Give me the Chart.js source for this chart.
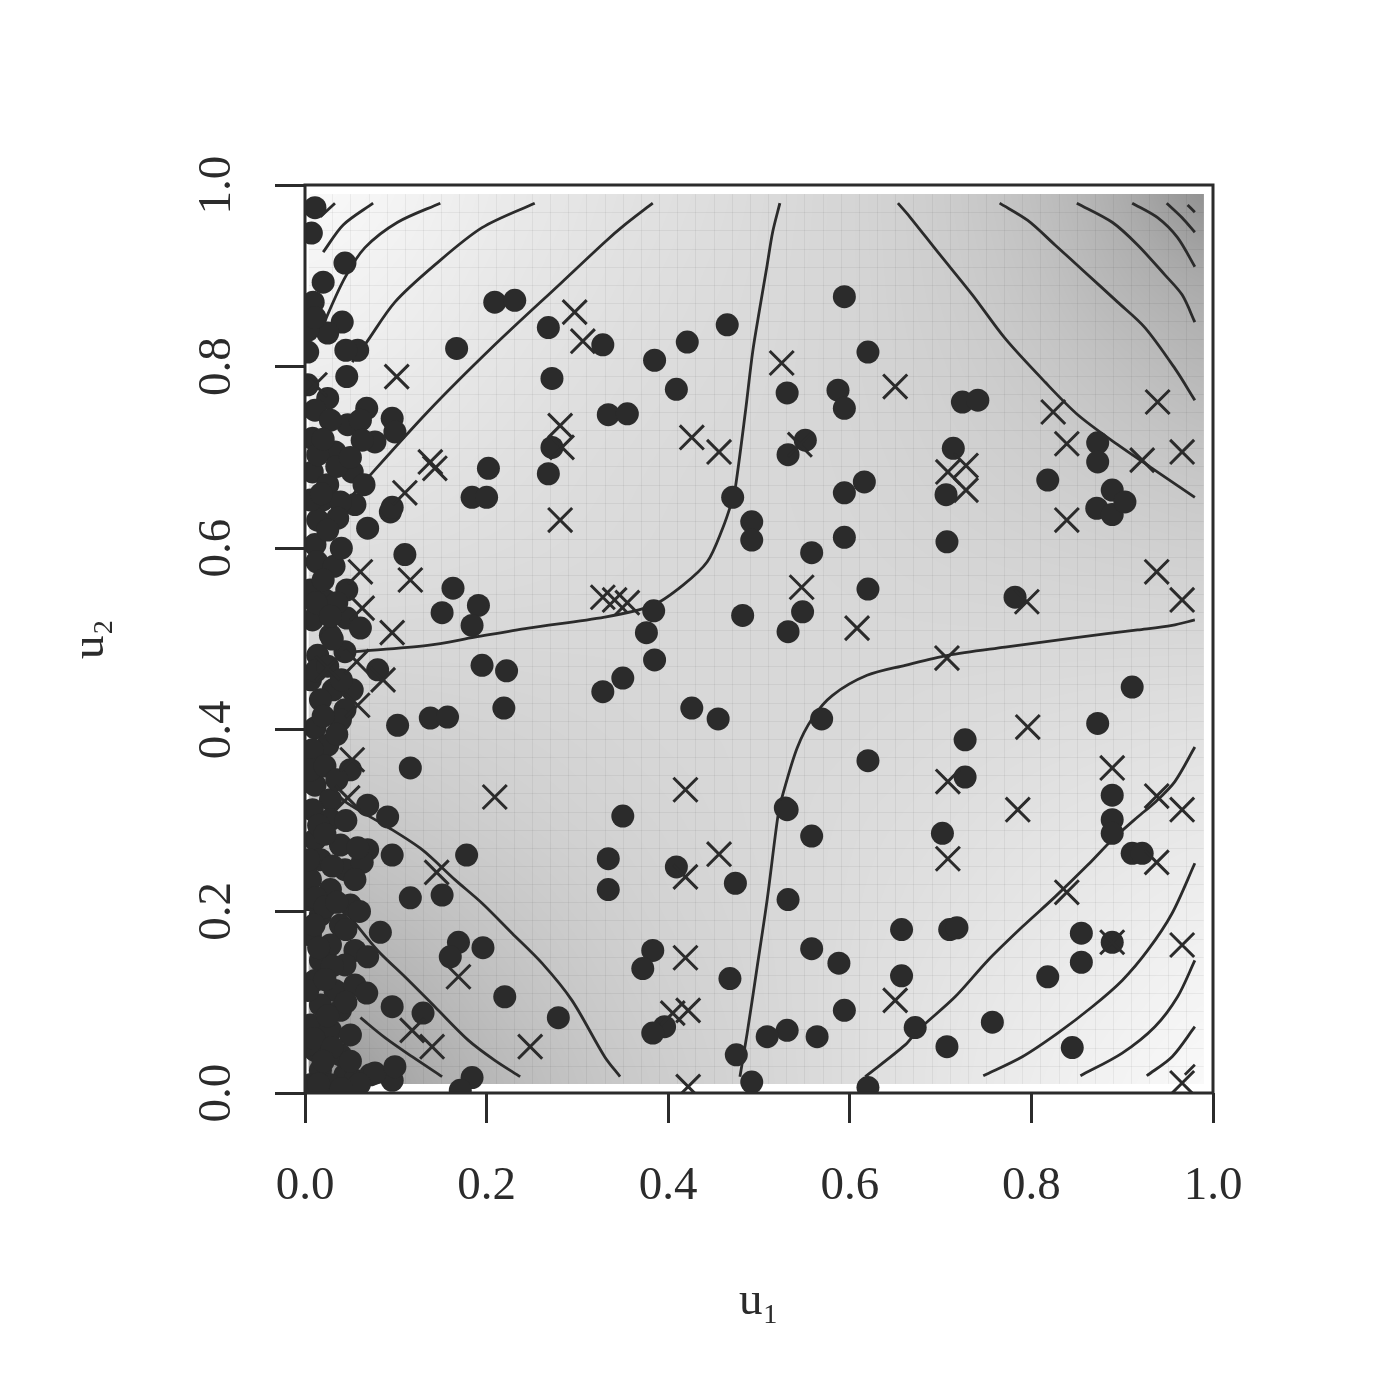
<!DOCTYPE html>
<html lang="en">
<head>
    <meta charset="UTF-8">
    <title>copula density</title>
    <script src="https://cdn.jsdelivr.net/npm/chart.js"></script>
    <style>
        body { margin: 0; background: #ffffff; }
    </style>
</head>
<body>
    <canvas id="copulaChart" width="1400" height="1400"></canvas>
    <script>
        // axis ticks
        const tickValues = [0, 0.2, 0.4, 0.6, 0.8, 1.0];
        const tickLabels = ['0.0', '0.2', '0.4', '0.6', '0.8', '1.0'];

        // background shade (grey level 0-255), rows from u2 = 1.0 down to 0.0
        const shadeU = [0, 0.1, 0.2, 0.3, 0.4, 0.5, 0.6, 0.7, 0.8, 0.9, 1.0];
        const shadeRows = [
            [250, 244, 236, 229, 224, 219, 213, 205, 192, 172, 140],
            [244, 240, 233, 227, 222, 218, 213, 206, 196, 180, 168],
            [238, 235, 229, 224, 220, 217, 213, 208, 201, 192, 182],
            [231, 229, 225, 221, 218, 216, 214, 210, 206, 201, 196],
            [224, 223, 221, 219, 217, 216, 215, 213, 211, 209, 207],
            [216, 216, 216, 216, 216, 216, 216, 216, 216, 216, 216],
            [207, 209, 211, 213, 215, 216, 217, 219, 221, 223, 225],
            [196, 201, 206, 210, 213, 216, 219, 222, 226, 229, 232],
            [182, 190, 198, 205, 211, 215, 220, 225, 230, 235, 239],
            [168, 177, 190, 200, 208, 214, 221, 228, 234, 240, 245],
            [140, 165, 182, 195, 205, 213, 221, 229, 237, 244, 250]
        ];
        const shadeLeft = 0.004, shadeMin = 0.01, shadeMax = 0.99, shadeCells = 49;

        // contour lines (u1 values, u2 values)
        const contourU = [
            [0.017, 0.033],
            [0.020, 0.042, 0.075],
            [0.019, 0.024, 0.044, 0.066, 0.102, 0.149],
            [0.052, 0.068, 0.099, 0.143, 0.195, 0.253],
            [0.033, 0.057, 0.135, 0.209, 0.283, 0.330, 0.352, 0.383],
            [0.523, 0.515, 0.509, 0.501, 0.493, 0.485, 0.474, 0.470, 0.460, 0.443, 0.416, 0.383, 0.330, 0.246, 0.187, 0.135, 0.055],
            [0.479, 0.487, 0.498, 0.509, 0.521, 0.526, 0.542, 0.559, 0.581, 0.619, 0.661, 0.708, 0.771, 0.845, 0.917, 0.955, 0.980],
            [0.653, 0.666, 0.697, 0.735, 0.771, 0.815, 0.851, 0.895, 0.933, 0.980],
            [0.765, 0.796, 0.826, 0.859, 0.895, 0.925, 0.958, 0.980],
            [0.850, 0.889, 0.917, 0.947, 0.966, 0.980],
            [0.911, 0.939, 0.961, 0.980],
            [0.949, 0.966, 0.980],
            [0.972, 0.980],
            [0.028, 0.047, 0.091, 0.129, 0.165, 0.195, 0.228, 0.261, 0.294, 0.330, 0.347],
            [0.039, 0.052, 0.080, 0.110, 0.143, 0.180, 0.209, 0.237],
            [0.061, 0.088, 0.118, 0.151],
            [0.617, 0.661, 0.675, 0.716, 0.752, 0.790, 0.826, 0.862, 0.889, 0.917, 0.936, 0.958, 0.980],
            [0.747, 0.790, 0.829, 0.867, 0.900, 0.928, 0.955, 0.980],
            [0.854, 0.900, 0.936, 0.961, 0.980],
            [0.927, 0.955, 0.980],
            [0.969, 0.980]
        ];
        const contourV = [
            [0.965, 0.980],
            [0.926, 0.956, 0.980],
            [0.840, 0.855, 0.898, 0.931, 0.959, 0.980],
            [0.805, 0.827, 0.871, 0.912, 0.953, 0.980],
            [0.637, 0.664, 0.750, 0.824, 0.893, 0.937, 0.956, 0.980],
            [0.980, 0.948, 0.912, 0.865, 0.816, 0.750, 0.667, 0.651, 0.622, 0.585, 0.559, 0.537, 0.524, 0.512, 0.502, 0.493, 0.486],
            [0.018, 0.066, 0.139, 0.213, 0.306, 0.328, 0.380, 0.413, 0.438, 0.460, 0.471, 0.482, 0.491, 0.501, 0.510, 0.515, 0.521],
            [0.980, 0.965, 0.926, 0.879, 0.831, 0.783, 0.747, 0.714, 0.688, 0.656],
            [0.980, 0.961, 0.934, 0.904, 0.871, 0.843, 0.798, 0.763],
            [0.980, 0.959, 0.934, 0.901, 0.879, 0.849],
            [0.980, 0.964, 0.942, 0.910],
            [0.980, 0.964, 0.948],
            [0.978, 0.970],
            [0.336, 0.319, 0.293, 0.268, 0.235, 0.209, 0.176, 0.143, 0.102, 0.040, 0.018],
            [0.207, 0.191, 0.157, 0.128, 0.095, 0.058, 0.036, 0.018],
            [0.083, 0.061, 0.040, 0.018],
            [0.018, 0.053, 0.069, 0.106, 0.146, 0.183, 0.216, 0.251, 0.279, 0.304, 0.320, 0.343, 0.381],
            [0.019, 0.040, 0.066, 0.095, 0.124, 0.157, 0.198, 0.253],
            [0.019, 0.044, 0.073, 0.106, 0.146],
            [0.019, 0.040, 0.073],
            [0.020, 0.031]
        ];

        // filled circles
        const circleU = [
            0.011, 0.007, 0.044, 0.020, 0.009, 0.041, 0.025, 0.058, 0.045, 0.003, 0.046, 0.025, 0.068, 0.096, 0.099, 0.077,
            0.047, 0.033, 0.008, 0.008, 0.052, 0.025, 0.011, 0.028, 0.061, 0.003, 0.014, 0.063,
            0.055, 0.019, 0.039, 0.014, 0.036, 0.069, 0.011, 0.094, 0.096,
            0.013, 0.032, 0.046, 0.022, 0.008, 0.046, 0.061, 0.028, 0.014, 0.044, 0.031, 0.052, 0.017, 0.044, 0.011,
            0.025, 0.008, 0.050, 0.011, 0.028, 0.080, 0.039,
            0.008, 0.028, 0.011, 0.039, 0.017, 0.044, 0.006, 0.028, 0.050, 0.017, 0.039, 0.006, 0.028, 0.055, 0.017,
            0.044, 0.011, 0.033, 0.055, 0.017, 0.039, 0.006, 0.028, 0.050, 0.011, 0.039, 0.017, 0.044, 0.006, 0.028,
            0.055, 0.072, 0.096,
            0.069, 0.091, 0.069, 0.096, 0.063, 0.055, 0.083, 0.069, 0.068, 0.096, 0.077, 0.099,
            0.003, 0.003, 0.004, 0.004, 0.006, 0.006, 0.006, 0.006, 0.003, 0.011,
            0.020, 0.035, 0.018, 0.040, 0.025, 0.020, 0.035, 0.012, 0.028, 0.030, 0.012, 0.025, 0.040, 0.020,
            0.035, 0.022, 0.035, 0.015, 0.022, 0.030, 0.012, 0.022, 0.035, 0.010, 0.030, 0.015, 0.022, 0.045,
            0.025, 0.010, 0.030, 0.020, 0.050, 0.060, 0.040, 0.015, 0.045, 0.060, 0.058, 0.045, 0.050, 0.065,
            0.167, 0.209, 0.231, 0.268, 0.328, 0.272, 0.334, 0.355, 0.272, 0.268, 0.202, 0.184, 0.200,
            0.385, 0.421, 0.465, 0.409, 0.531, 0.594, 0.620, 0.587, 0.594, 0.551, 0.532, 0.471, 0.594, 0.616,
            0.724, 0.741, 0.714, 0.706, 0.818, 0.873, 0.873, 0.889, 0.872, 0.889, 0.903, 0.707, 0.782, 0.911,
            0.873, 0.727, 0.727, 0.889,
            0.492, 0.492, 0.594, 0.558, 0.620, 0.548, 0.532, 0.482, 0.384, 0.376, 0.385, 0.350, 0.328, 0.426,
            0.455, 0.569, 0.620, 0.529,
            0.163, 0.191, 0.151, 0.184, 0.195, 0.222, 0.219, 0.102, 0.138, 0.157, 0.116, 0.110,
            0.178, 0.116, 0.151, 0.169, 0.160, 0.196, 0.220, 0.279, 0.130, 0.184, 0.171,
            0.350, 0.334, 0.334, 0.409, 0.474, 0.531, 0.558, 0.532, 0.657, 0.558, 0.588, 0.657, 0.594, 0.564,
            0.531, 0.509, 0.468, 0.383, 0.372, 0.396, 0.383, 0.475, 0.492, 0.620, 0.672,
            0.702, 0.710, 0.718, 0.707, 0.757, 0.855, 0.855, 0.818, 0.889, 0.845, 0.889, 0.889, 0.911, 0.922
        ];
        const circleV = [
            0.975, 0.947, 0.914, 0.893, 0.871, 0.849, 0.837, 0.818, 0.818, 0.816, 0.789, 0.765, 0.754, 0.743, 0.728, 0.717,
            0.736, 0.706, 0.721, 0.684, 0.684, 0.670, 0.752, 0.741, 0.741, 0.780, 0.703, 0.719,
            0.648, 0.653, 0.651, 0.631, 0.633, 0.622, 0.604, 0.640, 0.645,
            0.585, 0.580, 0.554, 0.543, 0.521, 0.523, 0.512, 0.504, 0.482, 0.486, 0.444, 0.444, 0.433, 0.422, 0.402,
            0.383, 0.378, 0.356, 0.339, 0.323, 0.466, 0.411,
            0.312, 0.301, 0.279, 0.273, 0.257, 0.246, 0.235, 0.224, 0.207, 0.196, 0.185, 0.174, 0.163, 0.157, 0.146,
            0.141, 0.124, 0.113, 0.119, 0.097, 0.091, 0.075, 0.069, 0.064, 0.047, 0.042, 0.025, 0.020, 0.009, 0.009,
            0.014, 0.020, 0.014,
            0.317, 0.304, 0.268, 0.262, 0.254, 0.235, 0.177, 0.150, 0.110, 0.095, 0.022, 0.029,
            0.113, 0.053, 0.213, 0.257, 0.356, 0.455, 0.554, 0.653, 0.840, 0.854,
            0.720, 0.690, 0.660, 0.600, 0.620, 0.565, 0.540, 0.540, 0.525, 0.500, 0.465, 0.470, 0.455, 0.415,
            0.395, 0.360, 0.345, 0.295, 0.285, 0.250, 0.215, 0.205, 0.210, 0.185, 0.140, 0.160, 0.125, 0.100,
            0.085, 0.060, 0.050, 0.035, 0.035, 0.010, 0.005, 0.010, 0.180, 0.200, 0.270, 0.300, 0.700, 0.670,
            0.820, 0.871, 0.873, 0.843, 0.824, 0.787, 0.747, 0.748, 0.711, 0.682, 0.688, 0.656, 0.656,
            0.807, 0.827, 0.846, 0.775, 0.771, 0.877, 0.816, 0.774, 0.754, 0.719, 0.703, 0.656, 0.661, 0.673,
            0.761, 0.763, 0.710, 0.659, 0.675, 0.716, 0.695, 0.664, 0.644, 0.637, 0.651, 0.607, 0.546, 0.447,
            0.407, 0.389, 0.348, 0.328,
            0.629, 0.609, 0.612, 0.595, 0.555, 0.530, 0.508, 0.526, 0.531, 0.507, 0.477, 0.457, 0.442, 0.424,
            0.412, 0.412, 0.366, 0.314,
            0.556, 0.537, 0.529, 0.515, 0.471, 0.465, 0.424, 0.405, 0.413, 0.414, 0.358, 0.593,
            0.262, 0.215, 0.218, 0.166, 0.150, 0.160, 0.106, 0.083, 0.088, 0.017, 0.003,
            0.305, 0.258, 0.224, 0.249, 0.231, 0.312, 0.283, 0.213, 0.180, 0.159, 0.143, 0.129, 0.091, 0.062,
            0.069, 0.062, 0.126, 0.157, 0.137, 0.073, 0.066, 0.042, 0.012, 0.006, 0.072,
            0.286, 0.180, 0.182, 0.051, 0.078, 0.176, 0.144, 0.128, 0.166, 0.050, 0.301, 0.286, 0.264, 0.264
        ];

        // crosses
        const crossU = [
            0.297, 0.306, 0.101, 0.281, 0.283, 0.138, 0.143, 0.110, 0.281, 0.426, 0.456, 0.525, 0.650, 0.545,
            0.824, 0.839, 0.939, 0.966, 0.922, 0.708, 0.728, 0.728, 0.839, 0.938, 0.966, 0.795, 0.707, 0.796,
            0.889, 0.708, 0.785, 0.938, 0.966, 0.547, 0.608, 0.419, 0.328, 0.341, 0.355, 0.061, 0.116, 0.063,
            0.096, 0.057, 0.086, 0.058, 0.052, 0.047, 0.209, 0.145, 0.169, 0.118, 0.140, 0.248, 0.456, 0.419,
            0.419, 0.405, 0.422, 0.422, 0.650, 0.708, 0.839, 0.889, 0.938, 0.966, 0.966, 0.011, 0.025
        ];
        const crossV = [
            0.860, 0.828, 0.789, 0.735, 0.711, 0.695, 0.688, 0.661, 0.631, 0.722, 0.706, 0.804, 0.778, 0.714,
            0.750, 0.715, 0.761, 0.706, 0.697, 0.684, 0.691, 0.664, 0.631, 0.574, 0.543, 0.541, 0.479, 0.403,
            0.358, 0.343, 0.312, 0.327, 0.312, 0.557, 0.512, 0.334, 0.546, 0.543, 0.540, 0.574, 0.565, 0.534,
            0.507, 0.475, 0.455, 0.427, 0.367, 0.325, 0.326, 0.243, 0.128, 0.069, 0.051, 0.051, 0.263, 0.238,
            0.149, 0.088, 0.091, 0.007, 0.102, 0.258, 0.221, 0.166, 0.254, 0.163, 0.011, 0.780, 0.468
        ];

        const ink = '#2b2b2b';
        const serif = 'Liberation Serif, Times New Roman, serif';

        const toPoints = (us, vs) => us.map((u, i) => ({ x: u, y: vs[i] }));

        const datasets = [];
        datasets.push({
            label: 'circles',
            data: toPoints(circleU, circleV),
            pointStyle: 'circle',
            pointRadius: 11.5,
            pointBackgroundColor: ink,
            pointBorderWidth: 0,
            clip: 0,
            order: 1
        });
        datasets.push({
            label: 'crosses',
            data: toPoints(crossU, crossV),
            pointStyle: 'crossRot',
            pointRadius: 17,
            pointBorderColor: ink,
            pointBorderWidth: 3,
            clip: 0,
            order: 0
        });
        contourU.forEach((us, k) => {
            datasets.push({
                label: 'contour' + k,
                data: toPoints(us, contourV[k]),
                showLine: true,
                pointRadius: 0,
                borderColor: ink,
                borderWidth: 2.8,
                tension: 0.3,
                clip: 0,
                order: 5
            });
        });

        // shaded density surface and its faint cell lines
        const shadePlugin = {
            id: 'shade',
            beforeDatasetsDraw(chart) {
                const { ctx, scales: { x, y } } = chart;
                const n = shadeU.length;
                const off = document.createElement('canvas');
                off.width = n; off.height = n;
                const octx = off.getContext('2d');
                const img = octx.createImageData(n, n);
                for (let r = 0; r < n; r++) {
                    for (let c = 0; c < n; c++) {
                        const g = shadeRows[r][c];
                        const k = (r * n + c) * 4;
                        img.data[k] = g; img.data[k + 1] = g; img.data[k + 2] = g; img.data[k + 3] = 255;
                    }
                }
                octx.putImageData(img, 0, 0);

                const half = (shadeU[1] - shadeU[0]) / 2;
                const left = x.getPixelForValue(shadeLeft), right = x.getPixelForValue(shadeMax);
                const top = y.getPixelForValue(shadeMax), bottom = y.getPixelForValue(shadeMin);
                ctx.save();
                ctx.beginPath();
                ctx.rect(left, top, right - left, bottom - top);
                ctx.clip();
                ctx.imageSmoothingEnabled = true;
                ctx.imageSmoothingQuality = 'high';
                const ix0 = x.getPixelForValue(shadeU[0] - half), ix1 = x.getPixelForValue(shadeU[n - 1] + half);
                const iy0 = y.getPixelForValue(shadeU[n - 1] + half), iy1 = y.getPixelForValue(shadeU[0] - half);
                ctx.drawImage(off, ix0, iy0, ix1 - ix0, iy1 - iy0);

                ctx.strokeStyle = 'rgba(0,0,0,0.05)';
                ctx.lineWidth = 1;
                const step = (shadeMax - shadeMin) / shadeCells;
                for (let i = 1; i < shadeCells; i++) {
                    const px = Math.round(x.getPixelForValue(shadeMin + i * step)) + 0.5;
                    const py = Math.round(y.getPixelForValue(shadeMin + i * step)) + 0.5;
                    ctx.beginPath(); ctx.moveTo(px, top); ctx.lineTo(px, bottom); ctx.stroke();
                    ctx.beginPath(); ctx.moveTo(left, py); ctx.lineTo(right, py); ctx.stroke();
                }
                ctx.restore();
            }
        };

        const boxPlugin = {
            id: 'box',
            afterDraw(chart) {
                const { ctx, chartArea: a } = chart;
                ctx.save();
                ctx.strokeStyle = ink;
                ctx.lineWidth = 3;
                ctx.strokeRect(a.left, a.top, a.right - a.left, a.bottom - a.top);
                ctx.restore();
            }
        };

        const ctx = document.getElementById('copulaChart').getContext('2d');
        new Chart(ctx, {
            type: 'scatter',
            data: { datasets: datasets },
            plugins: [shadePlugin, boxPlugin],
            options: {
                responsive: false,
                animation: false,
                events: [],
                layout: { padding: { top: 185, right: 187, left: 0, bottom: 0 } },
                plugins: { legend: { display: false }, tooltip: { enabled: false } },
                scales: {
                    x: {
                        type: 'linear', min: 0, max: 1,
                        afterFit(s) { s.height = 307; },
                        afterBuildTicks(s) { s.ticks = tickValues.map(v => ({ value: v })); },
                        ticks: {
                            autoSkip: false, maxRotation: 0, padding: 35, color: ink,
                            font: { family: serif, size: 47 },
                            callback: (v, i) => tickLabels[i]
                        },
                        grid: { drawOnChartArea: false, drawTicks: true, tickLength: 30, tickColor: ink, tickWidth: 3 },
                        border: { display: false },
                        title: { display: true, text: 'u₁', color: ink, font: { family: serif, size: 47 }, padding: { top: 0, bottom: 70 } }
                    },
                    y: {
                        type: 'linear', min: 0, max: 1,
                        afterFit(s) { s.width = 305; },
                        afterBuildTicks(s) { s.ticks = tickValues.map(v => ({ value: v })); },
                        ticks: {
                            autoSkip: false, minRotation: 90, maxRotation: 90, padding: 28, crossAlign: 'center', color: ink,
                            font: { family: serif, size: 47 },
                            callback: (v, i) => tickLabels[i]
                        },
                        grid: { drawOnChartArea: false, drawTicks: true, tickLength: 30, tickColor: ink, tickWidth: 3 },
                        border: { display: false },
                        title: { display: true, text: 'u₂', color: ink, font: { family: serif, size: 47 }, padding: { top: 62, bottom: 0 } }
                    }
                }
            }
        });
    </script>
</body>
</html>
